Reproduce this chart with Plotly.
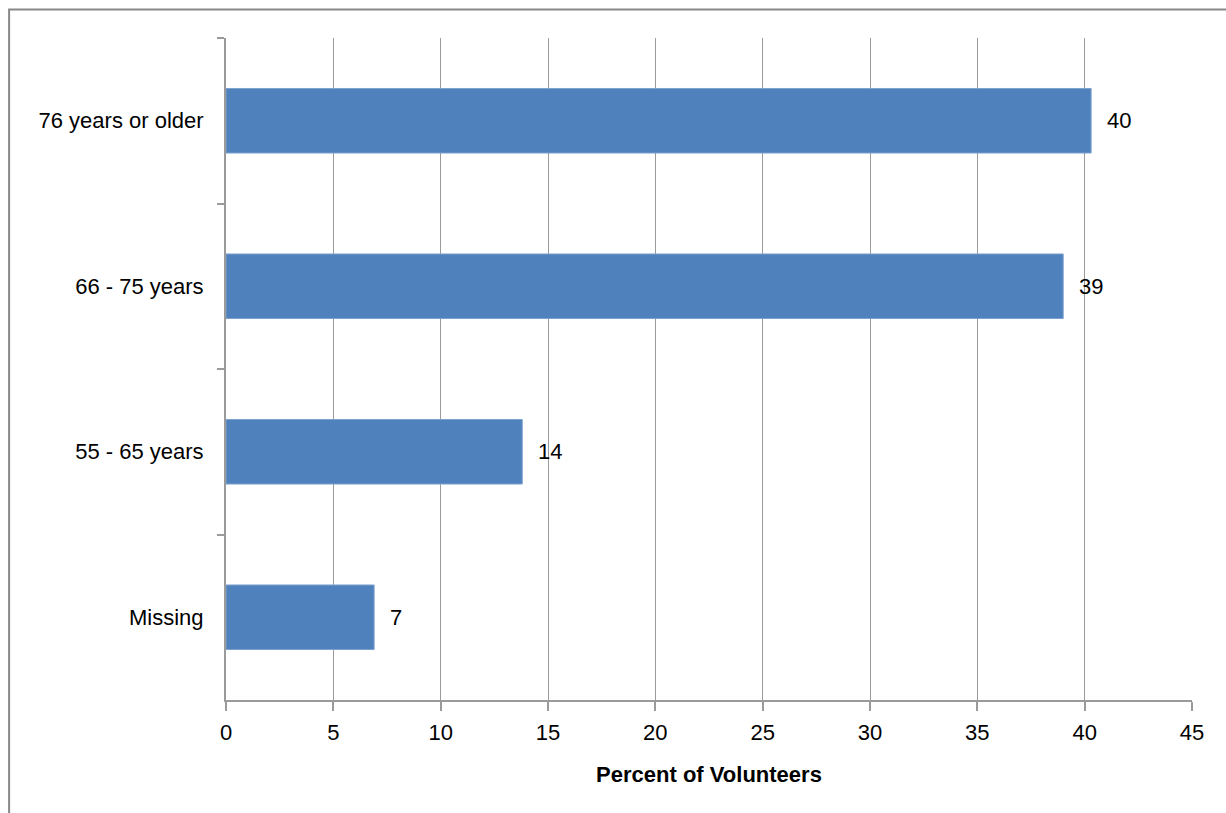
import plotly.graph_objects as go

categories = ["76 years or older", "66 - 75 years", "55 - 65 years", "Missing"]
values = [40.3, 39.0, 13.8, 6.9]
x_ticks = [0, 5, 10, 15, 20, 25, 30, 35, 40, 45]
x_title = "Percent of Volunteers"

FONT = "Liberation Sans, Arial, sans-serif"
GRAY = "#9a9a9a"

fig = go.Figure()
fig.add_trace(go.Bar(
    y=categories, x=values, orientation="h",
    marker=dict(color="#4F81BD", line=dict(color="#7da1cf", width=1)),
    width=0.39, hoverinfo="x+y",
))

for c, v in zip(categories, values):
    fig.add_annotation(x=v, y=c, text=str(int(round(v))), showarrow=False,
                       xanchor="left", yanchor="middle", xshift=14,
                       font=dict(family=FONT, size=22, color="#000"))

fig.update_layout(
    width=1226, height=813,
    margin=dict(l=225.5, r=34, t=38, b=113, pad=0),
    paper_bgcolor="white", plot_bgcolor="white",
    showlegend=False,
    font=dict(family=FONT, size=22, color="#000"),
    xaxis=dict(
        range=[0, 45], tickvals=x_ticks, ticktext=[str(t) for t in x_ticks],
        showgrid=True, gridcolor=GRAY, gridwidth=1,
        showline=True, linecolor=GRAY, linewidth=2,
        ticks="outside", ticklen=9, tickcolor=GRAY, tickwidth=2,
        zeroline=False, automargin=False, ticklabelstandoff=3,
        title=dict(text="<b>" + x_title + "</b>", font=dict(family=FONT, size=22), standoff=22),
        tickfont=dict(family=FONT, size=22),
    ),
    yaxis=dict(
        type="category", autorange="reversed", automargin=False,
        tickson="boundaries", ticks="outside", ticklen=7, tickcolor=GRAY, tickwidth=2,
        showline=True, linecolor=GRAY, linewidth=2, showgrid=False,
        tickfont=dict(family=FONT, size=22), ticklabelstandoff=16,
    ),
    shapes=[dict(type="rect", xref="paper", yref="paper",
                 x0=(8.5 - 225.5) / 966.5, x1=(1240 - 225.5) / 966.5,
                 y0=(700 - 830) / 662, y1=(700 - 9.5) / 662,
                 line=dict(color="#888888", width=2), fillcolor="rgba(0,0,0,0)", layer="below")],
)

fig.write_html("out.html", config={"displayModeBar": False},
               post_script="document.body.style.margin='0';")
